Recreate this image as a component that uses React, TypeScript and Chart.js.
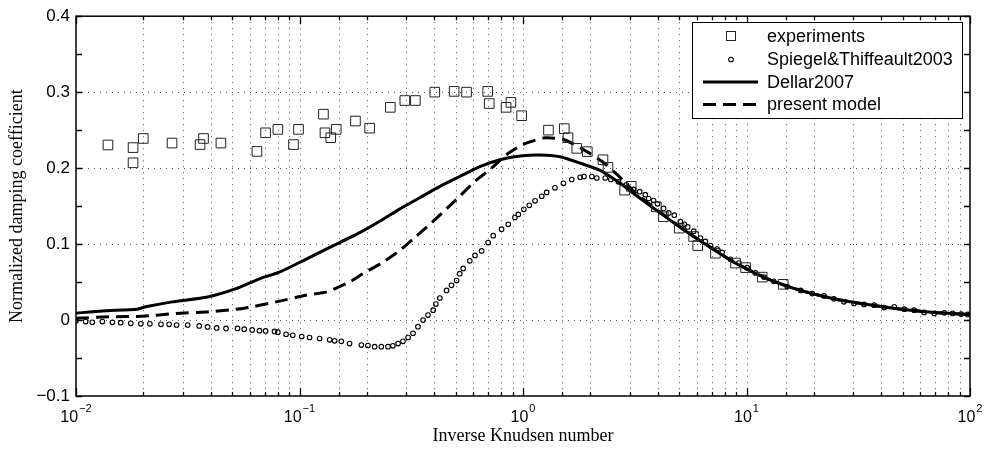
import React, { useEffect, useRef } from "react";
import { Chart, registerables } from "chart.js";

Chart.register(...registerables);

// ---------------- data ----------------
const seriesLabels = [
  "experiments",
  "Spiegel&Thiffeault2003",
  "Dellar2007",
  "present model",
];

const expX = [
  0.0139, 0.018, 0.018, 0.02, 0.0269, 0.0359, 0.0372, 0.0445, 0.0645, 0.0705,
  0.08, 0.094, 0.099, 0.128, 0.13, 0.138, 0.146, 0.178, 0.206, 0.255, 0.296,
  0.33, 0.403, 0.492, 0.559, 0.695, 0.706, 0.84, 0.883, 0.986, 1.3, 1.53, 1.59,
  1.74, 1.94, 2.28, 2.4, 2.85, 3.05, 3.95, 4.25, 5.0, 5.8, 6.05, 7.26, 8.93,
  9.91, 11.76, 14.6,
];
const expY = [
  0.2305, 0.227, 0.207, 0.239, 0.233, 0.231, 0.239, 0.233, 0.222, 0.2465,
  0.251, 0.231, 0.251, 0.271, 0.2465, 0.24, 0.251, 0.262, 0.2526, 0.28, 0.289,
  0.289, 0.3, 0.301, 0.3, 0.301, 0.285, 0.28, 0.2865, 0.269, 0.25, 0.252, 0.24,
  0.226, 0.2217, 0.211, 0.201, 0.171, 0.176, 0.149, 0.136, 0.121, 0.11, 0.098,
  0.088, 0.075, 0.069, 0.0565, 0.047,
];

const spiegelX = [
  0.01, 0.01104, 0.01183, 0.01312, 0.01455, 0.01585, 0.01758, 0.0195, 0.0214,
  0.024, 0.0261, 0.0282, 0.0316, 0.0356, 0.0388, 0.0426, 0.0469, 0.0528,
  0.0566, 0.0614, 0.0662, 0.0705, 0.0773, 0.08, 0.0871, 0.0933, 0.1023, 0.1109,
  0.123, 0.1365, 0.1436, 0.1538, 0.1675, 0.1892, 0.2023, 0.2168, 0.2323,
  0.2489, 0.2618, 0.2761, 0.2904, 0.3062, 0.3221, 0.3388, 0.3573, 0.3758,
  0.3963, 0.4074, 0.4246, 0.455, 0.4786, 0.5047, 0.5212, 0.54, 0.578, 0.61,
  0.653, 0.698, 0.736, 0.802, 0.859, 0.92, 0.953, 1.009, 1.067, 1.132, 1.213,
  1.276, 1.39, 1.517, 1.652, 1.803, 1.875, 2.032, 2.138, 2.333, 2.472, 2.673,
  2.897, 3.126, 3.327, 3.524, 3.648, 3.837, 4.0, 4.256, 4.487, 4.753, 5.058,
  5.272, 5.458, 5.808, 6.223, 6.546, 6.902, 7.379, 7.78, 8.472, 9.247, 10.07,
  10.96, 11.97, 13.24, 15.21, 17.46, 19.68, 22.23, 24.6, 27.29, 30.27, 33.57,
  37.24, 41.3, 45.81, 50.82, 56.23, 62.37, 69.18, 76.74, 83.56, 91.2, 97.72,
];
const spiegelY = [
  -0.001, -0.002, -0.003, -0.002, -0.003, -0.0035, -0.0043, -0.005, -0.005,
  -0.0057, -0.0057, -0.0065, -0.0065, -0.0078, -0.009, -0.0104, -0.011, -0.011,
  -0.012, -0.013, -0.014, -0.0143, -0.015, -0.016, -0.0187, -0.02, -0.0217,
  -0.023, -0.0243, -0.026, -0.0274, -0.028, -0.031, -0.033, -0.0335, -0.035,
  -0.035, -0.035, -0.034, -0.031, -0.028, -0.023, -0.0174, -0.0087, 0.0, 0.0065,
  0.013, 0.021, 0.029, 0.039, 0.0457, 0.052, 0.061, 0.068, 0.078, 0.085, 0.091,
  0.102, 0.111, 0.1196, 0.126, 0.135, 0.139, 0.1457, 0.151, 0.157, 0.163, 0.168,
  0.174, 0.18, 0.185, 0.188, 0.189, 0.189, 0.187, 0.187, 0.185, 0.182, 0.178,
  0.172, 0.169, 0.165, 0.16, 0.1574, 0.153, 0.147, 0.141, 0.138, 0.1296, 0.126,
  0.1226, 0.117, 0.108, 0.1035, 0.098, 0.0935, 0.089, 0.08, 0.075, 0.069, 0.062,
  0.0565, 0.051, 0.044, 0.039, 0.0348, 0.0317, 0.028, 0.024, 0.0218, 0.0205,
  0.0196, 0.0165, 0.0174, 0.0143, 0.013, 0.01, 0.0087, 0.0095, 0.0087, 0.0078,
  0.0074,
];

const dellarX = [
  0.01, 0.0131, 0.0188, 0.0205, 0.027, 0.0388, 0.052, 0.0662, 0.0813, 0.1035,
  0.1365, 0.186, 0.2285, 0.2805, 0.345, 0.425, 0.521, 0.641, 0.789, 0.971, 1.19,
  1.466, 1.803, 2.213, 2.72, 3.35, 4.11, 5.06, 6.22, 8.77, 12.39, 17.46, 24.6,
  34.75, 49.1, 69.2, 100,
];
const dellarY = [
  0.009, 0.012, 0.0143, 0.0174, 0.0239, 0.0304, 0.0413, 0.0543, 0.063, 0.078,
  0.0956, 0.115, 0.13, 0.146, 0.161, 0.176, 0.189, 0.202, 0.211, 0.216, 0.2174,
  0.215, 0.2065, 0.197, 0.18, 0.16, 0.141, 0.1217, 0.104, 0.076, 0.0543, 0.039,
  0.028, 0.0204, 0.0143, 0.01, 0.0072,
];

const presentX = [
  0.01, 0.0141, 0.0198, 0.028, 0.0394, 0.0557, 0.0787, 0.107, 0.132, 0.1675,
  0.192, 0.236, 0.2805, 0.328, 0.383, 0.452, 0.521, 0.609, 0.724, 0.846, 1.0,
  1.256, 1.54, 1.93, 2.25, 2.67, 3.12, 3.35, 4.11, 5.06, 6.22, 8.77, 12.39,
  17.46, 24.6, 34.75, 49.1, 69.2, 100,
];
const presentY = [
  0.0022, 0.0043, 0.005, 0.0087, 0.011, 0.0152, 0.0239, 0.0326, 0.037, 0.05,
  0.061, 0.076, 0.0913, 0.1087, 0.126, 0.1457, 0.163, 0.1826, 0.2, 0.218, 0.231,
  0.24, 0.237, 0.2217, 0.209, 0.19, 0.17, 0.162, 0.142, 0.1225, 0.1045, 0.0765,
  0.0545, 0.039, 0.028, 0.0204, 0.0143, 0.01, 0.0072,
];

const xTitle = "Inverse Knudsen number";
const yTitle = "Normalized damping coefficient";
const xMin = 0.01;
const xMax = 100;
const yMin = -0.1;
const yMax = 0.4;

// ---------------- helpers ----------------
const isDecade = (v: number) => {
  const l = Math.log10(v);
  return Math.abs(l - Math.round(l)) < 1e-6;
};
const exponentText = (v: number) =>
  String(Math.round(Math.log10(v))).replace("-", "\u2212");
const isTenth = (v: number) => Math.abs(v * 10 - Math.round(v * 10)) < 1e-6;
const yLabel = (v: number) => {
  if (!isTenth(v)) return "";
  const r = Math.round(v * 10) / 10;
  if (r === 0) return "0";
  return r.toFixed(1).replace("-", "\u2212");
};

const toXY = (xs: number[], ys: number[]) =>
  xs.map((x, i) => ({ x, y: ys[i] }));

const SANS = "'Liberation Sans', Arial, Helvetica, sans-serif";
const SERIF = "'Liberation Serif', 'Times New Roman', serif";
const DASH = [13, 7];

// ---------------- plugin: matlab-like axes box, grid, ticks, legend ----------------
const matlabAxes = {
  id: "matlabAxes",
  beforeDatasetsDraw(chart: any) {
    const { ctx, chartArea: a } = chart;
    const xs = chart.scales.x;
    const ys = chart.scales.y;
    ctx.save();
    ctx.strokeStyle = "#555";
    ctx.lineWidth = 1;
    ctx.setLineDash([1, 5]);
    for (const t of xs.ticks) {
      const px = Math.round(xs.getPixelForValue(t.value)) + 0.5;
      if (px <= a.left + 2 || px >= a.right - 2) continue;
      ctx.beginPath();
      ctx.moveTo(px, a.top);
      ctx.lineTo(px, a.bottom);
      ctx.stroke();
    }
    for (const t of ys.ticks) {
      if (!isTenth(t.value)) continue;
      const py = Math.round(ys.getPixelForValue(t.value)) + 0.5;
      if (py <= a.top + 2 || py >= a.bottom - 2) continue;
      ctx.beginPath();
      ctx.moveTo(a.left, py);
      ctx.lineTo(a.right, py);
      ctx.stroke();
    }
    ctx.restore();
  },
  afterDatasetsDraw(chart: any) {
    const { ctx, chartArea: a } = chart;
    const xs = chart.scales.x;
    const ys = chart.scales.y;
    ctx.save();
    ctx.strokeStyle = "#000";
    ctx.lineWidth = 1.3;
    ctx.setLineDash([]);
    // ticks on x (bottom & top)
    for (const t of xs.ticks) {
      const px = Math.round(xs.getPixelForValue(t.value)) + 0.5;
      const len = isDecade(t.value) ? 8 : 4;
      ctx.beginPath();
      ctx.moveTo(px, a.bottom);
      ctx.lineTo(px, a.bottom - len);
      ctx.moveTo(px, a.top);
      ctx.lineTo(px, a.top + len);
      ctx.stroke();
    }
    for (const t of ys.ticks) {
      const py = Math.round(ys.getPixelForValue(t.value)) + 0.5;
      ctx.beginPath();
      ctx.moveTo(a.left, py);
      ctx.lineTo(a.left + 6, py);
      ctx.moveTo(a.right, py);
      ctx.lineTo(a.right - 6, py);
      ctx.stroke();
    }
    ctx.lineWidth = 1.5;
    ctx.strokeRect(a.left, a.top, a.right - a.left, a.bottom - a.top);

    // x tick labels: 10 with raised exponent, placed by the log scale
    ctx.fillStyle = "#000";
    ctx.textBaseline = "alphabetic";
    ctx.textAlign = "left";
    for (const t of xs.ticks) {
      if (!isDecade(t.value)) continue;
      const px = xs.getPixelForValue(t.value);
      const exp = exponentText(t.value);
      ctx.font = `16px ${SANS}`;
      const wBase = ctx.measureText("10").width;
      ctx.font = `11px ${SANS}`;
      const wExp = ctx.measureText(exp).width;
      const x0 = px - (wBase + 1 + wExp) / 2;
      ctx.font = `16px ${SANS}`;
      ctx.fillText("10", x0, a.bottom + 25.5);
      ctx.font = `11px ${SANS}`;
      ctx.fillText(exp, x0 + wBase + 1, a.bottom + 15.5);
    }

    // legend
    const bx = 692,
      by = 22,
      bw = 270,
      bh = 96;
    ctx.fillStyle = "#fff";
    ctx.fillRect(bx, by, bw, bh);
    ctx.lineWidth = 1;
    ctx.strokeStyle = "#000";
    ctx.strokeRect(bx + 0.5, by + 0.5, bw, bh);
    const rows = [36, 59.5, 82, 104.5];
    const mx = 731;
    ctx.strokeStyle = "#222";
    ctx.lineWidth = 1;
    ctx.strokeRect(mx - 4.5, rows[0] - 4.5, 9, 9);
    ctx.strokeStyle = "#000";
    ctx.lineWidth = 1.1;
    ctx.beginPath();
    ctx.arc(mx, rows[1], 2.3, 0, Math.PI * 2);
    ctx.stroke();
    ctx.lineWidth = 3;
    ctx.beginPath();
    ctx.moveTo(703, rows[2]);
    ctx.lineTo(758, rows[2]);
    ctx.stroke();
    ctx.setLineDash(DASH);
    ctx.beginPath();
    ctx.moveTo(703, rows[3]);
    ctx.lineTo(758, rows[3]);
    ctx.stroke();
    ctx.setLineDash([]);
    ctx.fillStyle = "#000";
    ctx.font = `18px ${SANS}`;
    ctx.textBaseline = "middle";
    ctx.textAlign = "left";
    chart.data.datasets.forEach((d: any, i: number) => {
      ctx.fillText(d.label, 767, rows[i] + 1);
    });
    ctx.restore();
  },
};

export default function App() {
  const ref = useRef<HTMLCanvasElement | null>(null);

  useEffect(() => {
    document.body.style.margin = "0";
    const canvas = ref.current;
    if (!canvas) return;
    const chart = new Chart(canvas, {
      type: "scatter",
      data: {
        datasets: [
          {
            label: seriesLabels[0],
            data: toXY(expX, expY),
            showLine: false,
            pointStyle: "rect",
            pointRadius: 6.8,
            pointBorderWidth: 1,
            borderColor: "#222",
            pointBorderColor: "#222",
            backgroundColor: "rgba(0,0,0,0)",
            pointBackgroundColor: "rgba(0,0,0,0)",
            order: 1,
          },
          {
            label: seriesLabels[1],
            data: toXY(spiegelX, spiegelY),
            showLine: false,
            pointStyle: "circle",
            pointRadius: 2.3,
            pointBorderWidth: 1.1,
            borderColor: "#000",
            pointBorderColor: "#000",
            backgroundColor: "rgba(0,0,0,0)",
            pointBackgroundColor: "rgba(0,0,0,0)",
            order: 2,
          },
          {
            label: seriesLabels[2],
            data: toXY(dellarX, dellarY),
            showLine: true,
            pointRadius: 0,
            borderColor: "#000",
            borderWidth: 3,
            backgroundColor: "#000",
            fill: false,
            tension: 0.2,
            order: 3,
          },
          {
            label: seriesLabels[3],
            data: toXY(presentX, presentY),
            showLine: true,
            pointRadius: 0,
            borderColor: "#000",
            borderWidth: 3,
            borderDash: DASH,
            backgroundColor: "#000",
            fill: false,
            tension: 0.2,
            order: 4,
          },
        ],
      },
      options: {
        animation: false,
        responsive: false,
        maintainAspectRatio: false,
        events: [],
        layout: { padding: { left: 0, top: 14, right: 15, bottom: 0 } },
        plugins: {
          legend: { display: false },
          tooltip: { enabled: false },
        },
        scales: {
          x: {
            type: "logarithmic",
            min: xMin,
            max: xMax,
            grid: { display: false, drawTicks: false },
            border: { display: false },
            title: {
              display: true,
              text: xTitle,
              color: "#000",
              font: { family: SERIF, size: 18, weight: "normal" },
              padding: { top: 0, bottom: 2 },
            },
            ticks: {
              display: false,
              autoSkip: false,
              maxRotation: 0,
              minRotation: 0,
            },
            afterFit: (s: any) => {
              s.height = 53;
            },
          },
          y: {
            type: "linear",
            min: yMin,
            max: yMax,
            grid: { display: false, drawTicks: false },
            border: { display: false },
            title: {
              display: true,
              text: yTitle,
              color: "#000",
              font: { family: SERIF, size: 18, weight: "normal" },
              padding: { top: 6, bottom: 0 },
            },
            ticks: {
              stepSize: 0.05,
              autoSkip: false,
              color: "#000",
              padding: 6,
              font: { family: SANS, size: 17 },
              callback: (v: any) => yLabel(Number(v)),
            },
            afterFit: (s: any) => {
              s.width = 76;
            },
          },
        },
      } as any,
      plugins: [matlabAxes],
    });
    return () => chart.destroy();
  }, []);

  return (
    <div style={{ width: 985, height: 449, background: "#fff" }}>
      <canvas ref={ref} width={985} height={449} />
    </div>
  );
}
